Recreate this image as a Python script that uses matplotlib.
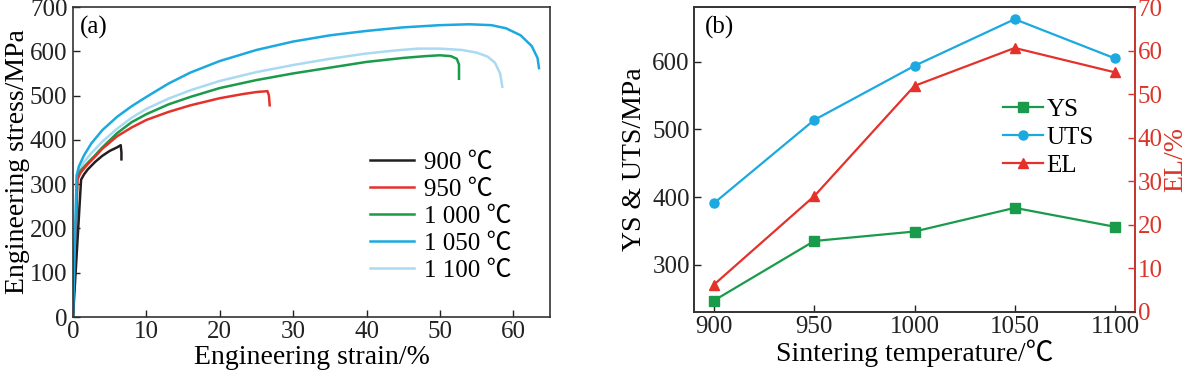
import matplotlib
matplotlib.use("Agg")
import matplotlib.pyplot as plt

plt.rcParams['font.family'] = ['Liberation Serif', 'Noto Sans CJK SC', 'DejaVu Serif']
plt.rcParams['mathtext.fontset'] = 'stix'

# ---------------- data: panel (a) stress-strain curves ----------------
labels_a = ["900 ℃", "950 ℃", "1 000 ℃", "1 050 ℃", "1 100 ℃"]
colors_a = ["#231f20", "#e4322b", "#1a9b4b", "#1ba9df", "#a9daf2"]

strain_900 = [0, 1.1, 1.5, 2, 3, 4, 5, 6, 6.5, 6.6, 6.6]
stress_900 = [0, 310, 322, 333, 350, 364, 375, 383, 388, 372, 356]

strain_950 = [0, 0.6, 1, 2, 3, 4, 6, 8, 10, 13, 16, 20, 23, 25, 26.5, 26.7, 26.8]
stress_950 = [0, 310, 325, 345, 362, 380, 408, 428, 445, 463, 478, 494, 503, 508, 510, 500, 478]

strain_1000 = [0, 0.6, 1, 2, 3, 4, 6, 8, 10, 13, 16, 20, 25, 30, 35, 40, 45, 48, 50, 51.5, 52.3, 52.6, 52.6]
stress_1000 = [0, 315, 330, 348, 365, 383, 415, 440, 458, 480, 497, 517, 535, 550, 563, 576, 585, 589, 591, 589, 583, 570, 538]

strain_1050 = [0, 0.5, 0.8, 1.5, 2.5, 4, 6, 8, 10, 13, 16, 20, 25, 30, 35, 40, 45, 50, 54, 57, 59, 61, 62.5, 63.3, 63.5]
stress_1050 = [0, 320, 340, 365, 392, 422, 452, 476, 497, 527, 552, 578, 603, 622, 636, 646, 654, 659, 661, 659, 652, 636, 612, 585, 562]

strain_1100 = [0, 0.5, 0.8, 1.5, 2.5, 4, 6, 8, 10, 13, 16, 20, 25, 30, 35, 40, 44, 47, 50, 53, 55, 56.5, 57.5, 58.2, 58.5]
stress_1100 = [0, 315, 330, 350, 370, 396, 425, 450, 470, 493, 512, 533, 553, 569, 583, 595, 602, 606, 606, 603, 597, 588, 574, 550, 520]

# ---------------- data: panel (b) ----------------
temps = [900, 950, 1000, 1050, 1100]
ys = [247, 335, 349, 384, 356]
uts = [391, 514, 594, 663, 605]
el = [6.3, 26.6, 51.9, 60.6, 55.0]

xticks_a = [0, 10, 20, 30, 40, 50, 60]
yticks_a = [0, 100, 200, 300, 400, 500, 600, 700]
yticks_b = [300, 400, 500, 600]
yticks_b2 = [0, 10, 20, 30, 40, 50, 60, 70]

FS = 18
FL = 20
spine_c = "#333333"
red_ax = "#d9352a"

fig = plt.figure(figsize=(11.93, 3.76), dpi=100)

# ---------------- panel (a) ----------------
ax = fig.add_axes([73/1193, 59/376, 477/1193, 310/376])
curves = [(strain_900, stress_900), (strain_950, stress_950), (strain_1000, stress_1000),
          (strain_1050, stress_1050), (strain_1100, stress_1100)]
order = [4, 2, 1, 0, 3]
handles = [None]*5
for i in order:
    sx, sy = curves[i]
    h, = ax.plot(sx, sy, color=colors_a[i], lw=1.8, label=labels_a[i], solid_joinstyle='round')
    handles[i] = h
ax.set_xlim(0, 65)
ax.set_ylim(0, 700)
ax.set_xticks(xticks_a)
ax.set_yticks(yticks_a)
ax.tick_params(direction='in', length=5, width=1.0, labelsize=FS, colors='#222222', top=False, right=False)
ax.tick_params(axis='x', pad=3)
ax.tick_params(axis='y', pad=4)
for s in ax.spines.values():
    s.set_color(spine_c); s.set_linewidth(1.2)
ax.set_xlabel("Engineering strain/%", fontsize=FL, labelpad=1)
ax.set_ylabel("Engineering stress/MPa", fontsize=FL, labelpad=0)
ax.text(0.015, 0.97, "(a)", transform=ax.transAxes, fontsize=FS, va='top', ha='left')
leg = ax.legend(handles=handles, loc='upper left', bbox_to_anchor=(0.623, 0.535),
                frameon=False, fontsize=FS, handlelength=1.75, handletextpad=0.4,
                labelspacing=0.18, borderpad=0, borderaxespad=0)

# ---------------- panel (b) ----------------
bx = fig.add_axes([694/1193, 64/376, 441/1193, 305/376])
bx2 = bx.twinx()
l1, = bx.plot(temps, ys, color="#1a9b4b", lw=1.6, marker='s', ms=6.5, label="YS")
l2, = bx.plot(temps, uts, color="#1ba9df", lw=1.6, marker='o', ms=6.5, label="UTS")
l3, = bx2.plot(temps, el, color="#e4322b", lw=1.6, marker='^', ms=7.5, label="EL")
bx.set_xlim(890, 1110)
bx.set_ylim(230, 681)
bx2.set_ylim(0, 70)
bx.set_xticks(temps)
bx.set_yticks(yticks_b)
bx2.set_yticks(yticks_b2)
bx.tick_params(direction='in', length=5, width=1.0, labelsize=FS, colors='#222222', top=False, right=False, pad=3)
bx2.tick_params(axis='y', direction='in', length=5, width=1.0, labelsize=FS, colors=red_ax, pad=2)
for s in bx.spines.values():
    s.set_color(spine_c); s.set_linewidth(1.2)
for name, s in bx2.spines.items():
    s.set_linewidth(1.2)
    s.set_color(red_ax if name == 'right' else spine_c)
bx.set_xlabel("Sintering temperature/℃", fontsize=FL, labelpad=1)
bx.set_ylabel("YS & UTS/MPa", fontsize=FL, labelpad=4)
bx2.set_ylabel("EL/%", fontsize=FL, color=red_ax, labelpad=0)
bx.text(0.025, 0.97, "(b)", transform=bx.transAxes, fontsize=FS, va='top', ha='left')
bx2.legend(handles=[l1, l2, l3], loc='upper left', bbox_to_anchor=(0.70, 0.70),
           frameon=False, fontsize=FS, handlelength=1.6, handletextpad=0.15,
           labelspacing=0.22, borderpad=0, borderaxespad=0, numpoints=1)

fig.savefig("out.png", dpi=100)
